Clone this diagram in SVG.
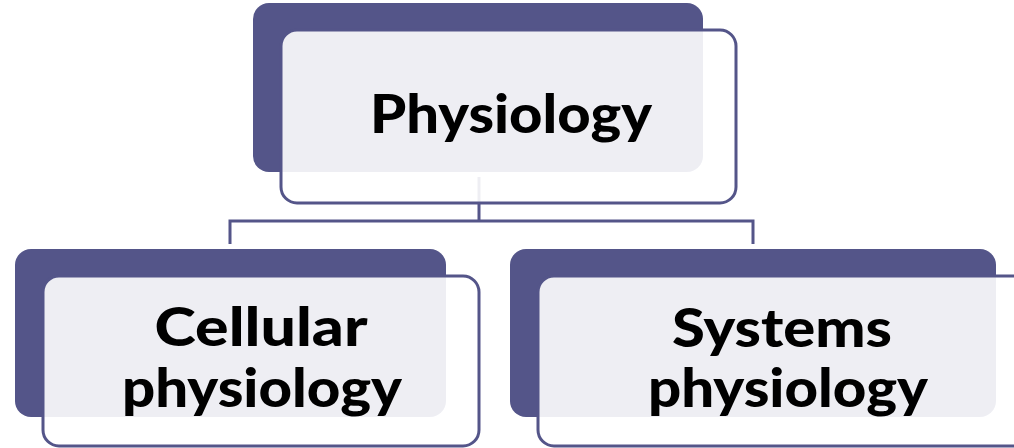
<svg xmlns="http://www.w3.org/2000/svg" width="1014" height="448" viewBox="0 0 1014 448">
<style>
.back{fill:#545589}
.front{fill:#ffffff;fill-opacity:0.9;stroke:#545589;stroke-width:3}
.conn{fill:none;stroke:#545589;stroke-width:3}
.lbl{font-family:Lato,"Open Sans",sans-serif;font-weight:900;font-size:54px;fill:#000;text-anchor:middle}
</style>
<rect width="1014" height="448" fill="#ffffff"/>
<g id="connectors">
<path class="conn" d="M479 177V221M230 244V221H753V244"/>
</g>
<g id="node-physiology">
<rect class="back" x="253" y="3" width="450" height="169" rx="16"/>
<rect class="front" x="281" y="30" width="455" height="173" rx="16"/>
<text class="lbl" x="511" y="133" textLength="282" lengthAdjust="spacingAndGlyphs">Physiology</text>
</g>
<g id="node-cellular">
<rect class="back" x="15" y="249" width="431" height="168" rx="16"/>
<rect class="front" x="43" y="276" width="436" height="170" rx="16"/>
<text class="lbl" x="261" y="346" textLength="213" lengthAdjust="spacingAndGlyphs">Cellular</text>
<text class="lbl" x="262" y="407" textLength="280" lengthAdjust="spacingAndGlyphs">physiology</text>
</g>
<g id="node-systems">
<rect class="back" x="510" y="249" width="486" height="168" rx="16"/>
<rect class="front" x="538" y="276" width="500" height="170" rx="16"/>
<text class="lbl" x="782" y="347" textLength="220" lengthAdjust="spacingAndGlyphs">Systems</text>
<text class="lbl" x="788" y="407" textLength="280" lengthAdjust="spacingAndGlyphs">physiology</text>
</g>
</svg>
